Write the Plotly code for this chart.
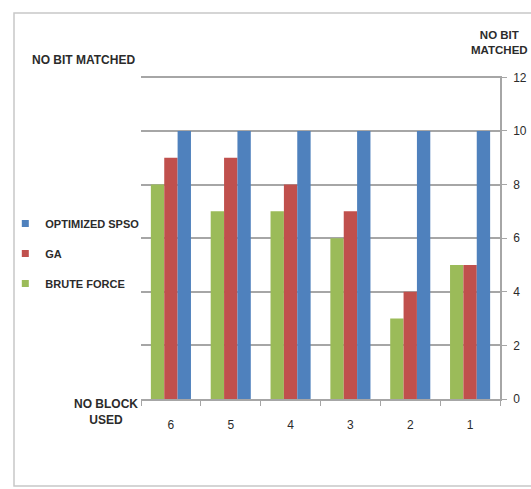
import plotly.graph_objects as go

# Number of blocks used (category axis, shown in descending order)
blocks = ["6", "5", "4", "3", "2", "1"]

# Number of bits matched per method
brute_force = [8, 7, 7, 6, 3, 5]
ga = [9, 9, 8, 7, 4, 5]
optimized_spso = [10, 10, 10, 10, 10, 10]

series = [
    ("BRUTE FORCE", brute_force, "#9BBB59"),
    ("GA", ga, "#C0504D"),
    ("OPTIMIZED SPSO", optimized_spso, "#4F81BD"),
]

FONT = "Liberation Sans, Arial, sans-serif"
TXT = "#2b2b2b"

W, H = 531, 489
L, R, T, B = 141, 31, 76, 90
pw, ph = W - L - R, H - T - B
YMAX = 12.05  # a hair above 12 so the top gridline is drawn


def px_x(x):
    return (x - L) / pw


def px_y(y):
    return (H - B - y) / ph


fig = go.Figure()

# legend entries (small square swatches), listed top to bottom
for name, vals, color in reversed(series):
    fig.add_trace(go.Scatter(
        x=[None], y=[None], mode="markers", name=f"<b>{name}</b>", legendgroup=name,
        marker=dict(symbol="square", size=7, color=color),
    ))

for name, vals, color in series:
    fig.add_trace(go.Bar(
        x=blocks, y=vals, name=name, marker=dict(color=color, line=dict(width=0)),
        showlegend=False, legendgroup=name,
    ))

fig.update_layout(
    width=W, height=H,
    margin=dict(l=L, r=R, t=T, b=B, autoexpand=False),
    paper_bgcolor="white", plot_bgcolor="white",
    barmode="group", bargap=0.33, bargroupgap=0,
    font=dict(family=FONT, size=12, color=TXT),
    legend=dict(
        xref="container", yref="container",
        x=0.01, y=1 - 209 / H, xanchor="left", yanchor="top",
        traceorder="grouped", tracegroupgap=11, itemwidth=30,
        font=dict(family=FONT, size=11, color=TXT),
        bgcolor="rgba(0,0,0,0)",
    ),
    xaxis=dict(
        type="category", showgrid=False, showline=True, linecolor="#a6a6a6",
        linewidth=1.5, ticks="outside", tickson="boundaries", ticklen=5,
        tickcolor="#a6a6a6", ticklabelstandoff=14, automargin=False,
        tickfont=dict(family=FONT, size=12, color=TXT),
    ),
    yaxis=dict(
        side="right", range=[0, YMAX], tickmode="linear", tick0=0, dtick=2,
        showgrid=True, gridcolor="#a6a6a6", gridwidth=1.5, showline=True,
        linecolor="#a6a6a6", linewidth=1.5, ticks="outside", ticklen=5,
        tickcolor="#a6a6a6", zeroline=False, ticklabelstandoff=4, automargin=False,
        tickfont=dict(family=FONT, size=12, color=TXT),
    ),
)

fig.add_annotation(
    text="<b>NO BIT MATCHED</b>", xref="paper", yref="paper",
    x=px_x(30), y=px_y(60), xanchor="left", yanchor="middle",
    showarrow=False, font=dict(family=FONT, size=12, color=TXT),
)
fig.add_annotation(
    text="<b>NO BIT<br>MATCHED</b>", xref="paper", yref="paper",
    x=px_x(530), y=px_y(43), xanchor="right", yanchor="middle", align="center",
    showarrow=False, font=dict(family=FONT, size=11.5, color=TXT),
)
fig.add_annotation(
    text="<b>NO BLOCK<br>USED</b>", xref="paper", yref="paper",
    x=px_x(106), y=px_y(412), xanchor="center", yanchor="middle",
    showarrow=False, font=dict(family=FONT, size=12, color=TXT),
)

# chart area border
fig.add_shape(
    type="rect", xref="paper", yref="paper",
    x0=px_x(14), x1=px_x(540), y0=px_y(486), y1=px_y(13),
    line=dict(color="#c8c8c8", width=1.5), layer="below",
)

fig.write_html("out.html")
